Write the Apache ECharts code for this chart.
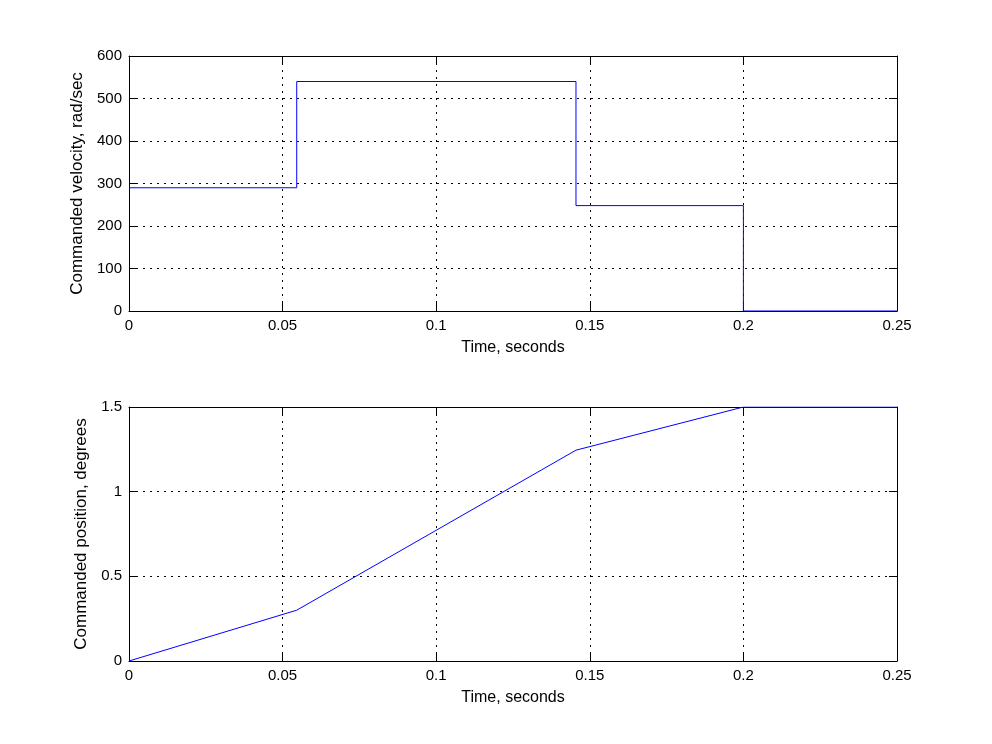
<!DOCTYPE html>
<html>
<head>
<meta charset="utf-8">
<script src="https://cdn.jsdelivr.net/npm/echarts@6/dist/echarts.min.js"></script>
<style>
html,body{margin:0;padding:0;background:#fff;}
#c{width:992px;height:744px;}
</style>
</head>
<body>
<div id="c"></div>
<script>
// Data
var times = [0, 0.0546, 0.1455, 0.2, 0.25];
var velocity = [290, 540, 248, 0, 0];      // rad/sec, held until next time
var position = [0, 0.30, 1.245, 1.5, 1.5]; // degrees
var xTicks = [0, 0.05, 0.1, 0.15, 0.2, 0.25];
var velTicks = [0, 100, 200, 300, 400, 500, 600];
var posTicks = [0, 0.5, 1, 1.5];

var chart = echarts.init(document.getElementById('c'));
var FONT = '"Liberation Sans", Arial, Helvetica, sans-serif';
var FS = 15;

function pairs(xs, ys){ return xs.map(function(x,i){ return [x, ys[i]]; }); }

var gridLine = {show:true, lineStyle:{color:'#000', width:1, type:[2,5]}};
function xAx(gi, bottom){
  return {
    type:'value', gridIndex:gi, min:xTicks[0], max:xTicks[xTicks.length-1], interval:0.05,
    position: bottom ? 'bottom' : 'top',
    axisLine:{show:true, onZero:false, lineStyle:{color:'#000', width:1}},
    axisTick:{show:true, inside:true, length:8, lineStyle:{color:'#000'}},
    axisLabel:{show:bottom, color:'#000', fontSize:FS, fontFamily:FONT, margin:7,
      formatter:function(v){ return String(+v.toFixed(3)); }},
    splitLine: bottom ? gridLine : {show:false},
    name: bottom ? 'Time, seconds' : '', nameLocation:'middle', nameGap:29,
    nameTextStyle:{color:'#000', fontSize:16, fontFamily:FONT}
  };
}
function yAx(gi, left, ticks, interval, name, gap){
  return {
    type:'value', gridIndex:gi, min:ticks[0], max:ticks[ticks.length-1], interval:interval,
    position: left ? 'left' : 'right',
    axisLine:{show:true, onZero:false, lineStyle:{color:'#000', width:1}},
    axisTick:{show:true, inside:true, length:8, lineStyle:{color:'#000'}},
    axisLabel:{show:left, color:'#000', fontSize:FS, fontFamily:FONT, margin:7},
    splitLine: left ? gridLine : {show:false},
    name: left ? name : '', nameLocation:'middle', nameGap:gap, nameRotate:90,
    nameTextStyle:{color:'#000', fontSize:17, fontFamily:FONT}
  };
}

chart.setOption({
  animation:false,
  backgroundColor:'#fff',
  grid:[
    {left:129, top:56, width:768, height:255, show:false},
    {left:129, top:407, width:768, height:254, show:false}
  ],
  xAxis:[ xAx(0,true), xAx(0,false), xAx(1,true), xAx(1,false) ],
  yAxis:[
    yAx(0,true,velTicks,100,'Commanded velocity, rad/sec',39),
    yAx(0,false,velTicks,100,'',0),
    yAx(1,true,posTicks,0.5,'Commanded position, degrees',33),
    yAx(1,false,posTicks,0.5,'',0)
  ],
  series:[
    {type:'line', xAxisIndex:0, yAxisIndex:0, step:'end', data:pairs(times, velocity),
     showSymbol:false, lineStyle:{color:'#0000ff', width:1}, z:5},
    {type:'line', xAxisIndex:2, yAxisIndex:2, data:pairs(times, position),
     showSymbol:false, lineStyle:{color:'#0000ff', width:1}, z:5}
  ]
});
</script>
</body>
</html>
